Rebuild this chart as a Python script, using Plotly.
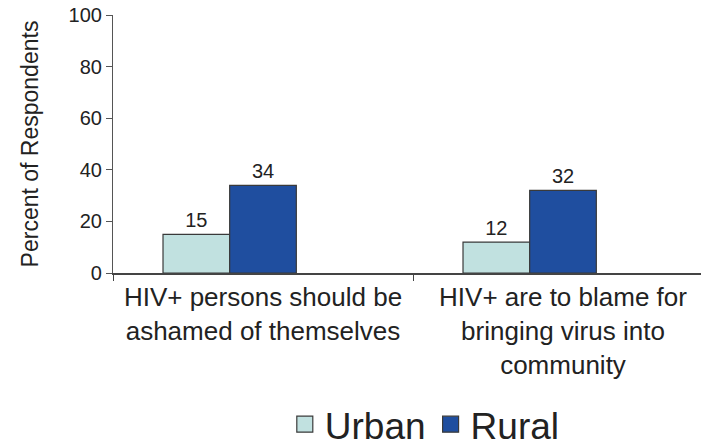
import plotly.graph_objects as go

categories = ["HIV+ persons should be<br>ashamed of themselves",
              "HIV+ are to blame for<br>bringing virus into<br>community"]
urban = [15, 12]
rural = [34, 32]
y_ticks = [0, 20, 40, 60, 80, 100]

FONT = "Liberation Sans, Arial, sans-serif"
BW = 0.2222
URBAN_C = "#c1e1e0"
RURAL_C = "#1f4e9f"
EDGE = "#3a3a3a"

fig = go.Figure()
fig.add_trace(go.Bar(
    x=categories, y=urban, name="Urban", showlegend=False,
    marker=dict(color=URBAN_C, line=dict(color=EDGE, width=1.2)),
    width=BW, offset=-1.5 * BW,
    text=urban, textposition="outside", cliponaxis=False,
    textfont=dict(size=20, color="#222222", family=FONT),
))
fig.add_trace(go.Bar(
    x=categories, y=rural, name="Rural", showlegend=False,
    marker=dict(color=RURAL_C, line=dict(color=EDGE, width=1.2)),
    width=BW, offset=-0.5 * BW,
    text=rural, textposition="outside", cliponaxis=False,
    textfont=dict(size=20, color="#222222", family=FONT),
))
# legend entries with larger square swatches
for name, col in (("Urban", URBAN_C), ("Rural", RURAL_C)):
    fig.add_trace(go.Scatter(
        x=[None], y=[None], mode="markers", name=name,
        marker=dict(symbol="square", size=26, color=col, line=dict(color=EDGE, width=1.2)),
    ))

fig.update_layout(
    width=701, height=447,
    margin=dict(l=113, r=0, t=15, b=174),
    plot_bgcolor="white", paper_bgcolor="white",
    barmode="overlay",
    font=dict(family=FONT, color="#222222"),
    legend=dict(
        orientation="h", xref="container", yref="container",
        x=0.606, y=0.05, xanchor="center", yanchor="middle",
        font=dict(size=37, color="#222222"), itemsizing="trace", itemwidth=30,
        tracegroupgap=0,
    ),
    xaxis=dict(
        range=[-0.5, 1.46], showline=True, linecolor="#444444", linewidth=1.5,
        ticks="outside", tickson="boundaries", ticklen=6, tickcolor="#444444",
        tickfont=dict(size=26, color="#222222"), showgrid=False, automargin=False,
    ),
    yaxis=dict(
        range=[0, 100], tickvals=y_ticks, showline=True, linecolor="#555555",
        linewidth=1.2, ticks="outside", ticklen=6, tickcolor="#555555",
        tickfont=dict(size=20, color="#222222"), showgrid=False, zeroline=False,
        automargin=False,
        title=dict(text="Percent of Respondents", font=dict(size=23, color="#222222"),
                   standoff=23),
    ),
)

fig.write_html("out.html", config={"displayModeBar": False},
               post_script="document.body.style.margin='0';")
